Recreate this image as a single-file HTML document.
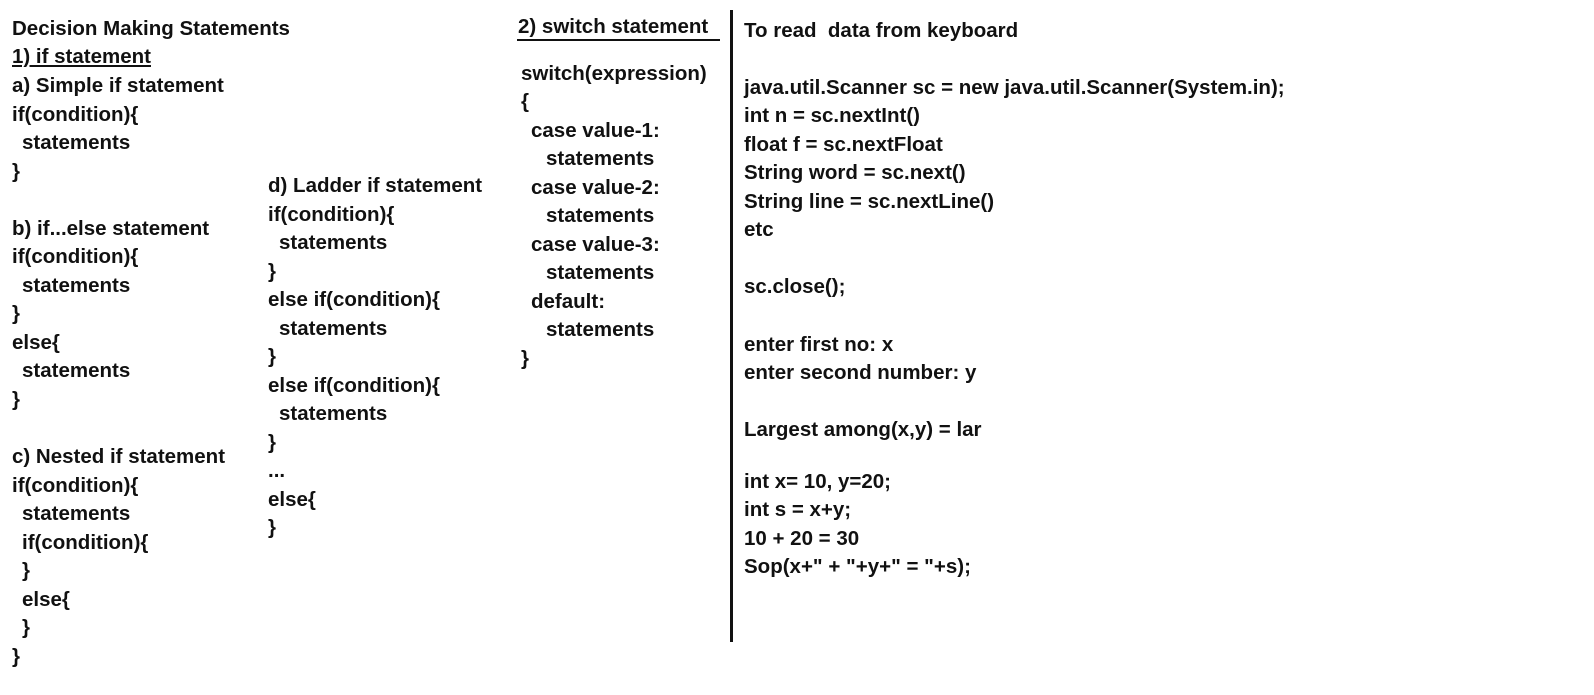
<!DOCTYPE html>
<html><head><meta charset="utf-8"><style>
body{margin:0;width:1594px;height:695px;background:#fff;position:relative;overflow:hidden;font-family:"Liberation Sans",sans-serif;font-weight:bold;font-size:20.5px;color:#111}
.t{position:absolute;line-height:22px;white-space:pre;margin-top:2px}
.u{text-decoration:underline}
</style></head><body>
<div class="t" style="left:12px;top:16px">Decision Making Statements</div>
<div class="t u" style="left:12px;top:44px">1) if statement</div>
<div class="t" style="left:12px;top:73px">a) Simple if statement</div>
<div class="t" style="left:12px;top:102px">if(condition){</div>
<div class="t" style="left:22px;top:130px">statements</div>
<div class="t" style="left:12px;top:159px">}</div>
<div class="t" style="left:12px;top:216px">b) if...else statement</div>
<div class="t" style="left:12px;top:244px">if(condition){</div>
<div class="t" style="left:22px;top:273px">statements</div>
<div class="t" style="left:12px;top:301px">}</div>
<div class="t" style="left:12px;top:330px">else{</div>
<div class="t" style="left:22px;top:358px">statements</div>
<div class="t" style="left:12px;top:387px">}</div>
<div class="t" style="left:12px;top:444px">c) Nested if statement</div>
<div class="t" style="left:12px;top:473px">if(condition){</div>
<div class="t" style="left:22px;top:501px">statements</div>
<div class="t" style="left:22px;top:530px">if(condition){</div>
<div class="t" style="left:22px;top:558px">}</div>
<div class="t" style="left:22px;top:587px">else{</div>
<div class="t" style="left:22px;top:615px">}</div>
<div class="t" style="left:12px;top:644px">}</div>

<div class="t" style="left:268px;top:173px">d) Ladder if statement</div>
<div class="t" style="left:268px;top:202px">if(condition){</div>
<div class="t" style="left:279px;top:230px">statements</div>
<div class="t" style="left:268px;top:259px">}</div>
<div class="t" style="left:268px;top:287px">else if(condition){</div>
<div class="t" style="left:279px;top:316px">statements</div>
<div class="t" style="left:268px;top:344px">}</div>
<div class="t" style="left:268px;top:373px">else if(condition){</div>
<div class="t" style="left:279px;top:401px">statements</div>
<div class="t" style="left:268px;top:430px">}</div>
<div class="t" style="left:268px;top:458px">...</div>
<div class="t" style="left:268px;top:487px">else{</div>
<div class="t" style="left:268px;top:515px">}</div>

<div class="t" style="left:518px;top:14px">2) switch statement</div>
<div style="position:absolute;left:517px;top:39px;width:203px;height:2px;background:#111"></div>
<div class="t" style="left:521px;top:61px">switch(expression)</div>
<div class="t" style="left:521px;top:89px">{</div>
<div class="t" style="left:531px;top:118px">case value-1:</div>
<div class="t" style="left:546px;top:146px">statements</div>
<div class="t" style="left:531px;top:175px">case value-2:</div>
<div class="t" style="left:546px;top:203px">statements</div>
<div class="t" style="left:531px;top:232px">case value-3:</div>
<div class="t" style="left:546px;top:260px">statements</div>
<div class="t" style="left:531px;top:289px">default:</div>
<div class="t" style="left:546px;top:317px">statements</div>
<div class="t" style="left:521px;top:346px">}</div>

<div style="position:absolute;left:730px;top:10px;width:3px;height:632px;background:#111"></div>

<div class="t" style="left:744px;top:18px">To read  data from keyboard</div>
<div class="t" style="left:744px;top:75px">java.util.Scanner sc = new java.util.Scanner(System.in);</div>
<div class="t" style="left:744px;top:103px">int n = sc.nextInt()</div>
<div class="t" style="left:744px;top:132px">float f = sc.nextFloat</div>
<div class="t" style="left:744px;top:160px">String word = sc.next()</div>
<div class="t" style="left:744px;top:189px">String line = sc.nextLine()</div>
<div class="t" style="left:744px;top:217px">etc</div>
<div class="t" style="left:744px;top:274px">sc.close();</div>
<div class="t" style="left:744px;top:332px">enter first no: x</div>
<div class="t" style="left:744px;top:360px">enter second number: y</div>
<div class="t" style="left:744px;top:417px">Largest among(x,y) = lar</div>
<div class="t" style="left:744px;top:469px">int x= 10, y=20;</div>
<div class="t" style="left:744px;top:497px">int s = x+y;</div>
<div class="t" style="left:744px;top:526px">10 + 20 = 30</div>
<div class="t" style="left:744px;top:554px">Sop(x+" + "+y+" = "+s);</div>
</body></html>
